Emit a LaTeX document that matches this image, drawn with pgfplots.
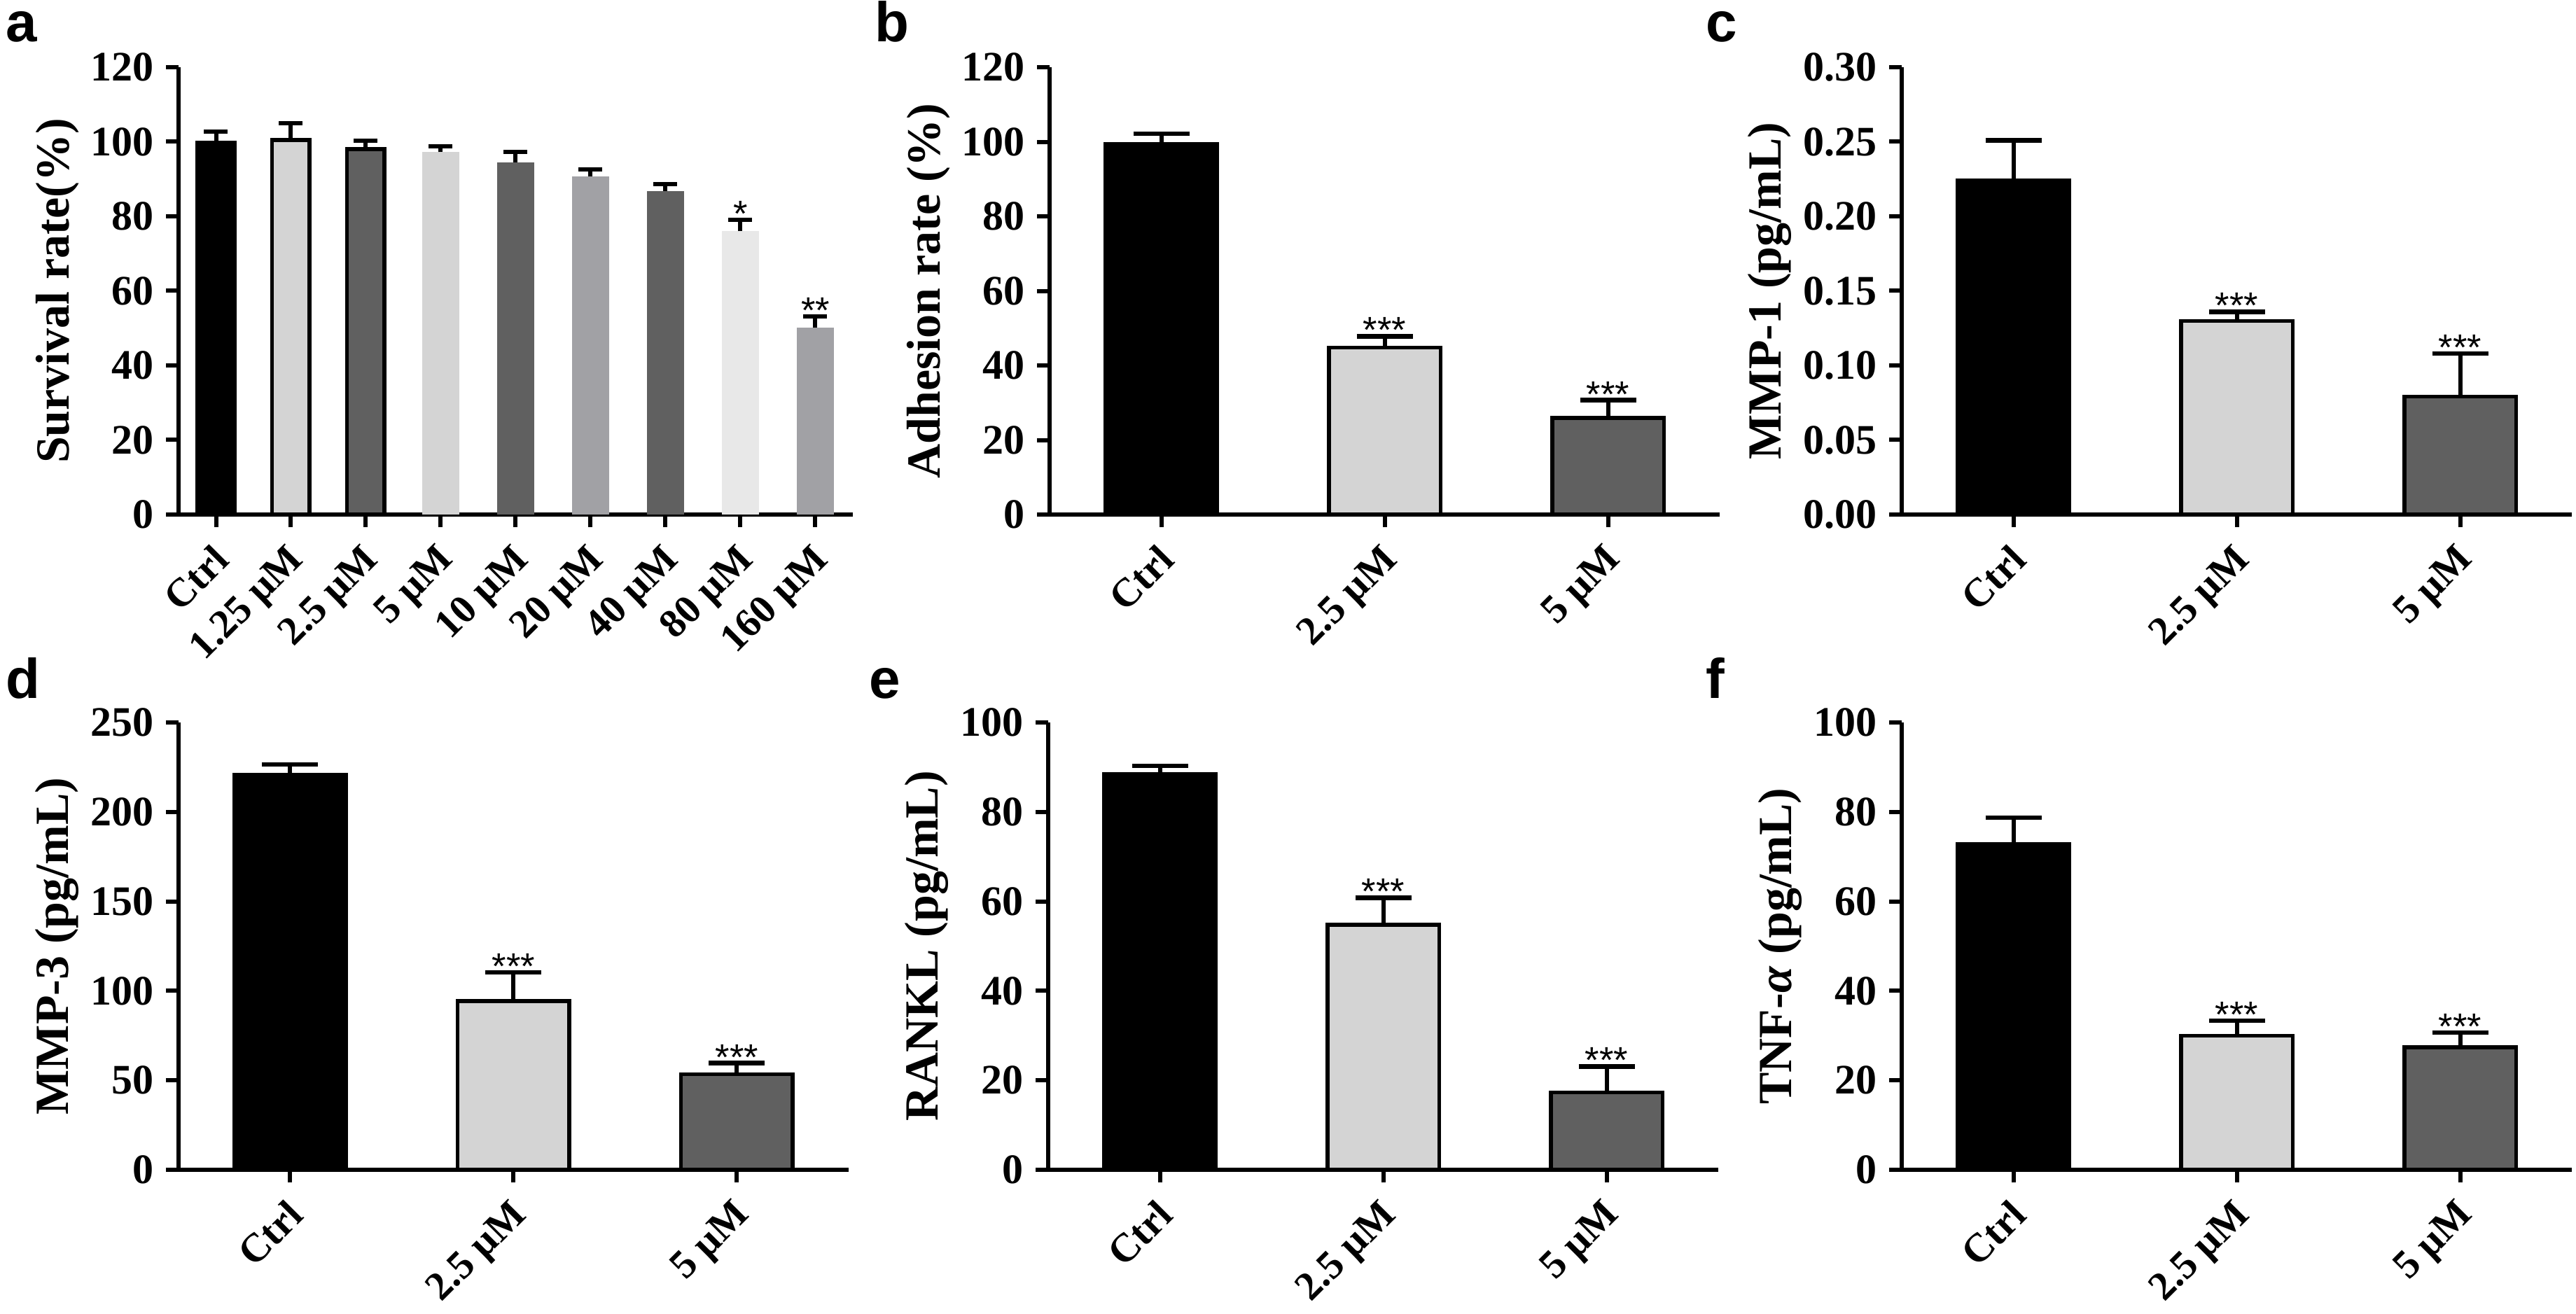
\documentclass[border=0pt]{standalone}
\usepackage{fontspec}
\setmainfont{Liberation Serif}
\newfontfamily\arialfont{Liberation Sans}
\usepackage{pgfplots}
\pgfplotsset{compat=1.18}
\definecolor{lg}{HTML}{D4D4D4}
\definecolor{dg}{HTML}{606060}
\definecolor{mg}{HTML}{A1A1A5}
\definecolor{vlg}{HTML}{E8E8E8}
\pgfplotsset{
 panel/.style={
  scale only axis, height=127.8pt,
  ybar, bar width=0.5, bar shift=0pt,
  axis x line=bottom, axis y line=left,
  axis line style={-, line width=1.2pt, black},
  every tick/.style={black, line width=1.2pt},
  tick align=outside, major tick length=3.6pt,
  ymin=0, clip=false,
  /pgf/number format/assume math mode=true,
  yticklabel style={font=\fontsize{12}{12}\selectfont\bfseries},
  xticklabel style={font=\fontsize{11.5}{11.5}\selectfont\bfseries, xshift=-1.4pt, yshift=-4.1pt, rotate=45, anchor=north east, inner sep=0pt},
  ylabel style={font=\fontsize{13.6}{14}\selectfont\bfseries},
  ylabel shift=-3.5pt,
  error bars/y dir=plus, error bars/y explicit,
  error bars/error bar style={draw=black, line width=1.2pt, solid},
  error bars/error mark options={draw=black, rotate=90, mark size=8pt, line width=1.3pt, solid},
  xmin=-0.5, xmax=2.5, width=191.4pt,
  xtick={0,1,2}, xticklabels={Ctrl,2.5 µM,5 µM},
 },
 bb/.style={fill=black, draw=black, line width=1.1pt, bar shift=0pt},
 bl/.style={fill=lg, draw=black, line width=1.1pt, bar shift=0pt},
 bd/.style={fill=dg, draw=black, line width=1.1pt, bar shift=0pt},
 bn/.style={fill=#1, draw=none, bar shift=0pt},
}
\tikzset{star/.style={font=\fontsize{10.5}{10.5}\selectfont\arialfont, anchor=base, inner sep=0pt, yshift=-1.9pt},
 letter/.style={font=\fontsize{16}{16}\selectfont\arialfont\bfseries, anchor=base west, inner sep=0pt}}
\begin{document}
\begin{tikzpicture}
\useasboundingbox (0,0) rectangle (735.8pt,375.2pt);
% panel a
\begin{axis}[panel, at={(51pt,228.2pt)}, anchor=south west, width=192.6pt, xmin=-0.5, xmax=8.5, ymax=120, ytick={0,20,...,120}, xtick={0,...,8}, xticklabels={Ctrl,1.25 µM,2.5 µM,5 µM,10 µM,20 µM,40 µM,80 µM,160 µM}, ylabel={Survival rate(\%)}, error bars/error mark options={draw=black, rotate=90, mark size=3.4pt, line width=1.2pt}]
\addplot[bb] coordinates {(0,99.8) +- (0,2.9)};
\addplot[bl] coordinates {(1,100.5) +- (0,4.5)};
\addplot[bd] coordinates {(2,98.0) +- (0,2.2)};
\addplot[bn=lg] coordinates {(3,97.2) +- (0,1.5)};
\addplot[bn=dg] coordinates {(4,94.5) +- (0,2.8)};
\addplot[bn=mg] coordinates {(5,90.7) +- (0,1.8)};
\addplot[bn=dg] coordinates {(6,86.8) +- (0,1.8)};
\addplot[bn=vlg] coordinates {(7,76.0) +- (0,3.1)};
\addplot[bn=mg] coordinates {(8,50.2) +- (0,3.0)};
\node[star] at (axis cs:7,79.1) {*};
\node[star] at (axis cs:8,53.2) {**};
\end{axis}
% panel b
\begin{axis}[panel, at={(299.8pt,228.2pt)}, anchor=south west, ymax=120, ytick={0,20,...,120}, ylabel={Adhesion rate (\%)}]
\addplot[bb] coordinates {(0,99.3) +- (0,2.9)};
\addplot[bl] coordinates {(1,44.8) +- (0,3.0)};
\addplot[bd] coordinates {(2,25.9) +- (0,4.8)};
\node[star] at (axis cs:1,47.8) {***};
\node[star] at (axis cs:2,30.7) {***};
\end{axis}
% panel c
\begin{axis}[panel, at={(543.2pt,228.2pt)}, anchor=south west, ymax=0.3, ytick={0,0.05,0.1,0.15,0.2,0.25,0.3}, scaled y ticks=false, yticklabel style={/pgf/number format/fixed, /pgf/number format/precision=2, /pgf/number format/fixed zerofill}, ylabel={MMP-1 (pg/mL)}]
\addplot[bb] coordinates {(0,0.224) +- (0,0.027)};
\addplot[bl] coordinates {(1,0.1297) +- (0,0.0063)};
\addplot[bd] coordinates {(2,0.079) +- (0,0.029)};
\node[star] at (axis cs:1,0.136) {***};
\node[star] at (axis cs:2,0.108) {***};
\end{axis}
% panel d
\begin{axis}[panel, at={(51pt,41pt)}, anchor=south west, ymax=250, ytick={0,50,...,250}, ylabel={MMP-3 (pg/mL)}]
\addplot[bb] coordinates {(0,220.6) +- (0,6.0)};
\addplot[bl] coordinates {(1,94.2) +- (0,16.1)};
\addplot[bd] coordinates {(2,53.5) +- (0,6.1)};
\node[star] at (axis cs:1,110.3) {***};
\node[star] at (axis cs:2,59.6) {***};
\end{axis}
% panel e
\begin{axis}[panel, at={(299.4pt,41pt)}, anchor=south west, ymax=100, ytick={0,20,...,100}, ylabel={RANKL (pg/mL)}]
\addplot[bb] coordinates {(0,88.4) +- (0,1.9)};
\addplot[bl] coordinates {(1,54.8) +- (0,6.0)};
\addplot[bd] coordinates {(2,17.3) +- (0,5.8)};
\node[star] at (axis cs:1,60.8) {***};
\node[star] at (axis cs:2,23.1) {***};
\end{axis}
% panel f
\begin{axis}[panel, at={(543.2pt,41pt)}, anchor=south west, ymax=100, ytick={0,20,...,100}, ylabel={TNF-\textit{α} (pg/mL)}]
\addplot[bb] coordinates {(0,72.8) +- (0,5.9)};
\addplot[bl] coordinates {(1,30.0) +- (0,3.3)};
\addplot[bd] coordinates {(2,27.4) +- (0,3.3)};
\node[star] at (axis cs:1,33.3) {***};
\node[star] at (axis cs:2,30.7) {***};
\end{axis}
\node[letter] at (1.6pt,363.2pt) {a};
\node[letter] at (249.6pt,363.2pt) {b};
\node[letter] at (487pt,363.2pt) {c};
\node[letter] at (1.6pt,175.6pt) {d};
\node[letter] at (248pt,175.6pt) {e};
\node[letter] at (487pt,175.6pt) {f};
\end{tikzpicture}
\end{document}
